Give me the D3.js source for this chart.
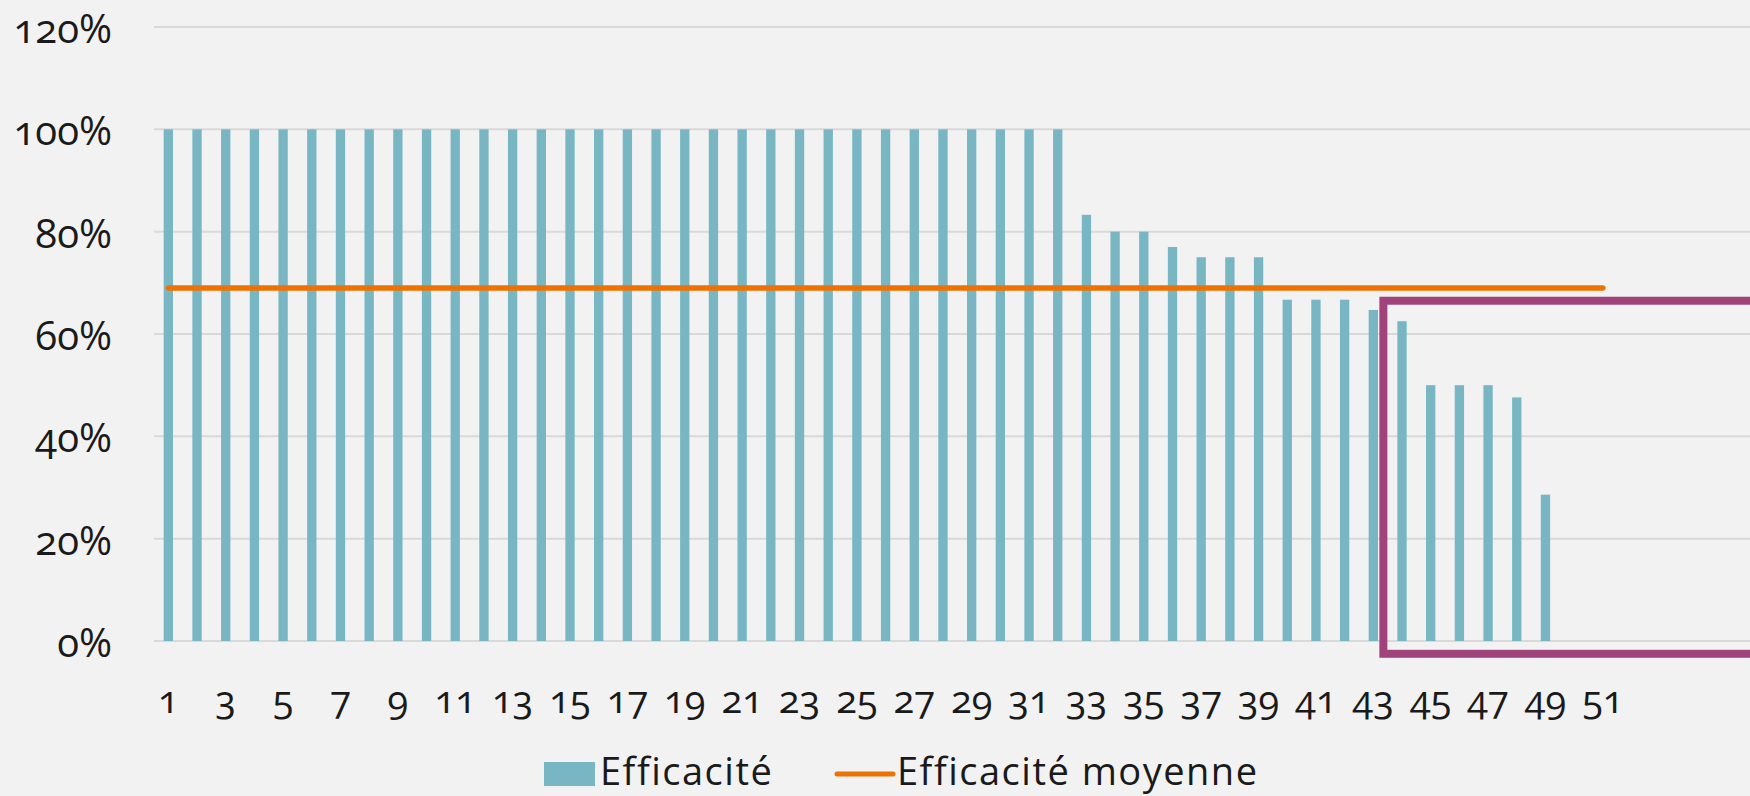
<!DOCTYPE html>
<html>
<head>
<meta charset="utf-8">
<script src="https://cdn.jsdelivr.net/npm/d3@7"></script>
<style>
  html, body { margin: 0; padding: 0; background: #f2f2f2; }
  svg text { font-family: "Open Sans", Lato, sans-serif; fill: #1a1a1a; font-variant-numeric: oldstyle-nums; font-variant-ligatures: none; }
</style>
</head>
<body>
<div id="chart"></div>
<script>
// categories 1..51
const categories = [1, 2, 3, 4, 5, 6, 7, 8, 9, 10, 11, 12, 13, 14, 15, 16, 17, 18, 19, 20,
    21, 22, 23, 24, 25, 26, 27, 28, 29, 30, 31, 32, 33, 34, 35, 36, 37, 38, 39, 40,
    41, 42, 43, 44, 45, 46, 47, 48, 49, 50, 51];

// Efficacité per category (50 and 51 have no bar)
const efficacite = [1, 1, 1, 1, 1, 1, 1, 1, 1, 1, 1, 1, 1, 1, 1, 1, 1, 1, 1, 1,
    1, 1, 1, 1, 1, 1, 1, 1, 1, 1, 1, 1, 0.833, 0.80, 0.80, 0.77, 0.75, 0.75, 0.75, 0.667,
    0.667, 0.667, 0.647, 0.625, 0.50, 0.50, 0.50, 0.476, 0.286, null, null];

// Efficacité moyenne
const moyenne = 0.69;

const yTicks = [0, 0.2, 0.4, 0.6, 0.8, 1.0, 1.2];
const xLabels = categories.filter(c => c % 2 === 1);

// highlighted zone (from category 43 onward, between these values)
const highlightFrom = 43;
const highlightTop = 0.665;
const highlightBottom = -0.025;

const width = 1750, height = 796;
const colBar = "#78b6c4", colLine = "#ee7203", colBox = "#a0437a";
const fontSize = "38px";

const svg = d3.select("#chart")
    .append("svg")
    .attr("width", width)
    .attr("height", height);

svg.append("rect").attr("width", width).attr("height", height).style("fill", "#f2f2f2");

const step = 28.69;
const x = d3.scaleBand()
    .domain(categories)
    .range([154, 154 + categories.length * step])
    .padding(0);

const y = d3.scaleLinear()
    .domain([0, 1.2])
    .range([641, 27]);

const cx = d => x(d) + x.bandwidth() / 2;

// gridlines
svg.selectAll(".grid")
    .data(yTicks)
    .enter()
    .append("line")
    .attr("x1", 154)
    .attr("x2", width)
    .attr("y1", d => y(d))
    .attr("y2", d => y(d))
    .style("stroke", "#d9d9d9")
    .style("stroke-width", 2);

// y labels
svg.selectAll(".ylab")
    .data(yTicks)
    .enter()
    .append("text")
    .attr("x", 112)
    .attr("y", d => y(d) + 16)
    .style("text-anchor", "end")
    .style("font-size", "40px")
    .text(d => Math.round(d * 100) + "%");

// bars
const barW = x.bandwidth() * 0.325;
svg.selectAll(".bar")
    .data(categories.map((c, i) => ({ c, v: efficacite[i] })).filter(d => d.v != null))
    .enter()
    .append("rect")
    .attr("x", d => cx(d.c) - barW / 2)
    .attr("y", d => y(d.v))
    .attr("width", barW)
    .attr("height", d => y(0) - y(d.v))
    .style("fill", colBar);

// x labels
svg.selectAll(".xlab")
    .data(xLabels)
    .enter()
    .append("text")
    .attr("x", d => cx(d))
    .attr("y", 713)
    .style("text-anchor", "middle")
    .style("font-size", fontSize)
    .text(d => d);

// average line
svg.append("line")
    .attr("x1", cx(categories[0]))
    .attr("x2", cx(categories[categories.length - 1]))
    .attr("y1", y(moyenne))
    .attr("y2", y(moyenne))
    .style("stroke", colLine)
    .style("stroke-width", 5.5)
    .style("stroke-linecap", "round");

// highlight box
const bx = cx(highlightFrom) + step * 0.35;
svg.append("rect")
    .attr("x", bx)
    .attr("y", y(highlightTop))
    .attr("width", width + 20 - bx)
    .attr("height", y(highlightBottom) - y(highlightTop))
    .style("fill", "none")
    .style("stroke", colBox)
    .style("stroke-width", 8);

// legend
svg.append("rect")
    .attr("x", 544).attr("y", 762)
    .attr("width", 51).attr("height", 24)
    .style("fill", colBar);
svg.append("text")
    .attr("x", 600).attr("y", 785)
    .style("font-size", fontSize)
    .style("letter-spacing", "1.5px")
    .text("Efficacité");
svg.append("line")
    .attr("x1", 837).attr("x2", 893)
    .attr("y1", 774).attr("y2", 774)
    .style("stroke", colLine)
    .style("stroke-width", 5)
    .style("stroke-linecap", "round");
svg.append("text")
    .attr("x", 897).attr("y", 785)
    .style("font-size", fontSize)
    .style("letter-spacing", "1.5px")
    .text("Efficacité moyenne");
</script>
</body>
</html>
